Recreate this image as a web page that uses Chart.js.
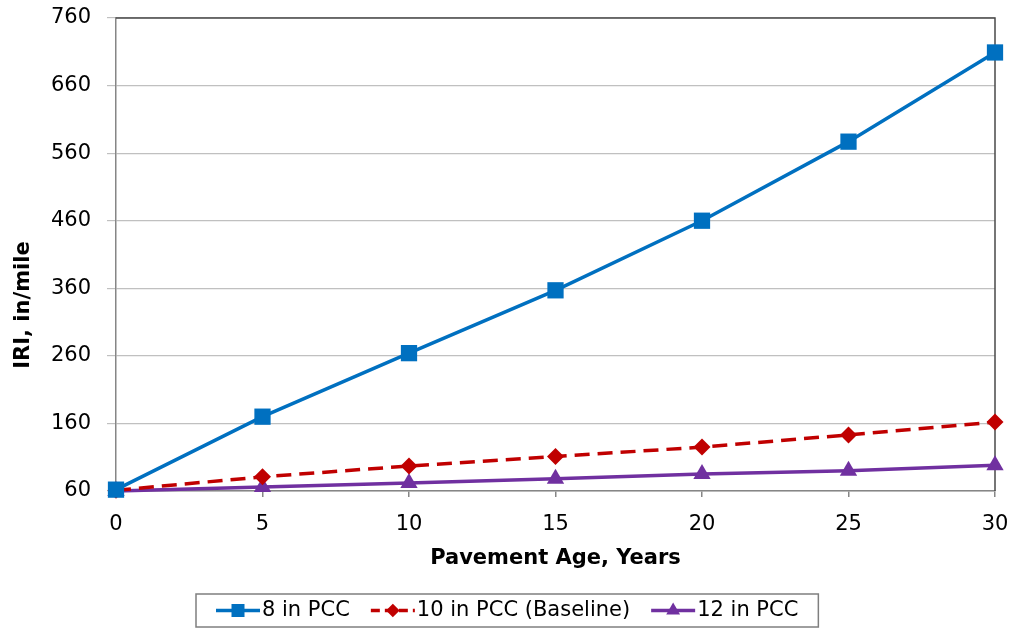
<!DOCTYPE html>
<html>
<head>
<meta charset="utf-8">
<script src="https://cdn.jsdelivr.net/npm/chart.js@4.4.0/dist/chart.umd.min.js"></script>
<style>
  html, body { margin: 0; padding: 0; background: #fff; }
  #wrap { width: 1015px; height: 628px; }
</style>
</head>
<body>
<div id="wrap"><canvas id="iri" width="1015" height="628"></canvas></div>
<script>
const years = [0, 5, 10, 15, 20, 25, 30]
const pcc8 = [62, 170, 264, 357, 460, 577, 709]
const pcc10 = [61, 81, 97, 111, 125, 143, 162]
const pcc12 = [60, 66, 72, 78, 85, 90, 98]
const seriesNames = ['8 in PCC', '10 in PCC (Baseline)', '12 in PCC']
const yTicks = [60, 160, 260, 360, 460, 560, 660, 760]
const yTitle = 'IRI, in/mile'

const FONT = '"DejaVu Sans", Verdana, sans-serif'

const toPoints = (vals) => years.map((x, i) => ({ x: x, y: vals[i] }))

// top + right frame of the plot area, and the y title (sits lower than centre, like the original)
const frame = {
  id: 'frame',
  beforeDatasetsDraw (chart) {
    const { ctx, chartArea: a } = chart
    ctx.save()
    ctx.strokeStyle = '#4a4a4a'
    ctx.lineWidth = 1.5
    ctx.beginPath()
    ctx.moveTo(a.left, a.top)
    ctx.lineTo(a.right, a.top)
    ctx.lineTo(a.right, a.bottom)
    ctx.stroke()

    ctx.translate(24, 305)
    ctx.rotate(-Math.PI / 2)
    ctx.font = 'bold 21px ' + FONT
    ctx.fillStyle = '#000'
    ctx.textAlign = 'center'
    ctx.textBaseline = 'middle'
    ctx.fillText(yTitle, 0, 0)
    ctx.restore()
  }
}

// legend with line + marker samples, boxed, at the bottom
const boxLegend = {
  id: 'boxLegend',
  afterDraw (chart) {
    const ctx = chart.ctx
    const sets = chart.data.datasets
    ctx.save()
    ctx.font = '21px ' + FONT
    ctx.textBaseline = 'middle'
    const lineW = 44
    const gapTxt = 2
    const gapItem = 21
    const widths = sets.map((d) => lineW + gapTxt + ctx.measureText(d.label).width)
    const total = widths.reduce((a, b) => a + b, 0) + gapItem * (sets.length - 1)
    const padX = 20
    const boxW = total + padX * 2
    const boxX = Math.round((chart.width - boxW) / 2)
    const boxY = 594
    const boxH = 33
    ctx.strokeStyle = '#7f7f7f'
    ctx.lineWidth = 1.5
    ctx.strokeRect(boxX, boxY, boxW, boxH)
    const cy = boxY + boxH / 2
    let x = boxX + padX
    sets.forEach((d, i) => {
      ctx.strokeStyle = d.borderColor
      ctx.fillStyle = d.backgroundColor
      ctx.lineWidth = 3.5
      ctx.setLineDash(d.borderDash ? [9, 5] : [])
      ctx.beginPath()
      ctx.moveTo(x, cy)
      ctx.lineTo(x + lineW, cy)
      ctx.stroke()
      ctx.setLineDash([])
      Chart.helpers.drawPoint(ctx, {
        pointStyle: d.pointStyle,
        radius: d.pointRadius * 0.8,
        rotation: 0,
        borderWidth: 0
      }, x + lineW / 2, cy)
      ctx.fillStyle = '#000'
      ctx.fillText(d.label, x + lineW + gapTxt, cy)
      x += widths[i] + gapItem
    })
    ctx.restore()
  }
}

new Chart(document.getElementById('iri'), {
  type: 'line',
  data: {
    datasets: [
      {
        label: seriesNames[0],
        data: toPoints(pcc8),
        borderColor: '#0070C0',
        backgroundColor: '#0070C0',
        borderWidth: 3.5,
        pointStyle: 'rect',
        pointRadius: 11.5,
        pointBorderWidth: 0,
        clip: false
      },
      {
        label: seriesNames[1],
        data: toPoints(pcc10),
        borderColor: '#C00000',
        backgroundColor: '#C00000',
        borderWidth: 3.5,
        borderDash: [15, 8],
        pointStyle: 'rectRot',
        pointRadius: 8.5,
        pointBorderWidth: 0,
        clip: false
      },
      {
        label: seriesNames[2],
        data: toPoints(pcc12),
        borderColor: '#7030A0',
        backgroundColor: '#7030A0',
        borderWidth: 3.5,
        pointStyle: 'triangle',
        pointRadius: 10,
        pointBorderWidth: 0,
        clip: false
      }
    ]
  },
  options: {
    responsive: false,
    animation: false,
    devicePixelRatio: 1,
    layout: { autoPadding: false, padding: { left: 0, right: 20, top: 18, bottom: 57 } },
    plugins: {
      legend: { display: false },
      tooltip: { enabled: false }
    },
    scales: {
      x: {
        type: 'linear',
        min: 0,
        max: 30,
        ticks: { stepSize: 5, padding: 15, color: '#000', font: { family: FONT, size: 21 } },
        grid: { drawOnChartArea: false, tickLength: 6, color: '#868686', lineWidth: 1.5 },
        border: { color: '#868686', width: 1.5 },
        title: {
          display: true,
          text: 'Pavement Age, Years',
          color: '#000',
          padding: { top: 0, bottom: 0 },
          font: { family: FONT, size: 21, weight: 'bold' }
        },
        afterFit (scale) {
          scale.height = 80
          scale.paddingLeft = 0
          scale.paddingRight = 0
        }
      },
      y: {
        min: 60,
        max: 760,
        afterBuildTicks (scale) { scale.ticks = yTicks.map((v) => ({ value: v })) },
        ticks: { padding: 16, color: '#000', font: { family: FONT, size: 21 } },
        grid: { color: '#c0c0c0', lineWidth: 1.2, tickLength: 9 },
        border: { color: '#868686', width: 1.5 },
        afterFit (scale) {
          scale.width = 116
          scale.paddingTop = 0
          scale.paddingBottom = 0
        }
      }
    }
  },
  plugins: [frame, boxLegend]
})
</script>
</body>
</html>
